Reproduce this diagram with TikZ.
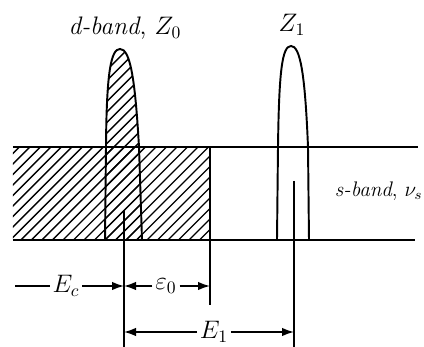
\documentclass[tikz,border=0pt]{standalone}
\usetikzlibrary{arrows.meta}

\tikzset{
  band/.style={line width=1.1pt},
  hatchline/.style={line width=0.8pt},
  dimarrow/.style={line width=0.9pt,-{Latex[length=2.4mm,width=1.7mm]}},
  dimline/.style={line width=0.9pt},
  lbl/.style={font=\Large,inner sep=1.5pt}
}

\begin{document}
\begin{tikzpicture}
  \useasboundingbox (0,0) rectangle (8.48,6.94);

  % Hatched occupied part of the s-band
  \begin{scope}
    \clip (0.26,2.14) rectangle (4.2,4.0);
    \foreach \x in {-2.1,-1.89,...,4.3}
      \draw[hatchline] (\x,2.14) -- ++(1.9,1.9);
  \end{scope}
  % Hatched d-band peak
  \begin{scope}
    \clip (2.1,2.14) -- (2.12,4.0) .. controls (2.13,5.5) and (2.22,5.96) .. (2.4,5.96)
      .. controls (2.6,5.96) and (2.7,5.4) .. (2.78,4.0) -- (2.84,2.14) -- cycle;
    \foreach \x in {-2.1,-1.89,...,3.2}
      \draw[hatchline] (\x,2.14) -- ++(4,4);
  \end{scope}

  % s-band edges
  \draw[band] (0.26,4.0) -- (8.36,4.0);
  \draw[band] (0.26,2.14) -- (8.3,2.14);
  \draw[band] (4.2,4.0) -- (4.2,0.84);

  % d-band peak, Z_0
  \draw[band] (2.1,2.14) -- (2.12,4.0) .. controls (2.13,5.5) and (2.22,5.96) .. (2.4,5.96)
    .. controls (2.6,5.96) and (2.7,5.4) .. (2.78,4.0) -- (2.84,2.14);
  % impurity peak, Z_1
  \draw[band] (5.54,2.14) -- (5.56,4.0) .. controls (5.58,5.5) and (5.64,6.02) .. (5.82,6.02)
    .. controls (6.0,6.02) and (6.1,5.5) .. (6.16,4.0) -- (6.18,2.14);

  % level markers
  \coordinate (d0) at (2.48,0);
  \coordinate (z1) at (5.88,0);
  \draw[dimline] (2.48,2.72) -- (d0);
  \draw[dimline] (5.88,3.32) -- (z1);

  % labels
  \node[lbl] (dband) at (2.5,6.38) {\textit{d-band}, $Z_0$};
  \node[lbl] (zone) at (5.84,6.44) {$Z_1$};
  \node[lbl,font=\large,anchor=west] (sband) at (6.64,3.12) {\textit{s-band}, $\nu_s$};

  % energies
  \coordinate (ecl) at (0.3,1.22);
  \coordinate (ecr) at (2.48,1.22);
  \coordinate (eor) at (4.2,1.22);
  \coordinate (e1l) at (2.48,0.3);
  \coordinate (e1r) at (5.88,0.3);
  \node[lbl] (ec) at (1.32,1.22) {$E_c$};
  \node[lbl] (eo) at (3.32,1.22) {$\varepsilon_0$};
  \node[lbl] (e1) at (4.28,0.3) {$E_1$};
  \draw[dimline] (ecl) -- (ec);
  \draw[dimarrow] (ec) -- (ecr);
  \draw[dimarrow] (eo) -- (ecr);
  \draw[dimarrow] (eo) -- (eor);
  \draw[dimarrow] (e1) -- (e1l);
  \draw[dimarrow] (e1) -- (e1r);
\end{tikzpicture}
\end{document}
